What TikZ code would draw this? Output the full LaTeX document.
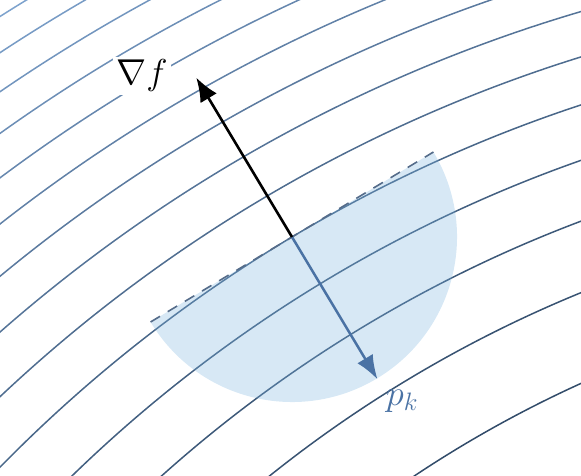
\RequirePackage{fix-cm}
\documentclass[tikz,border=0pt]{standalone}
\usetikzlibrary{arrows.meta,calc}
\definecolor{levlight}{RGB}{125,162,205}
\definecolor{levdark}{RGB}{50,76,106}
\definecolor{diskcol}{RGB}{122,178,221}
\definecolor{pcol}{RGB}{74,114,164}
\definecolor{dashcol}{RGB}{85,108,138}
\tikzset{
  level/.style={line width=1.5pt},
  gradarrow/.style={line width=2.6pt, black, -{Latex[length=24pt,width=19pt]}},
  parrow/.style={line width=2.5pt, pcol, -{Latex[length=24pt,width=18pt]}},
  dashline/.style={line width=1.6pt, dashcol, dash pattern=on 11pt off 9pt},
  disk/.style={fill=diskcol, fill opacity=0.3},
  lab/.style={font=\fontsize{36}{40}\selectfont, inner sep=3pt}
}
\begin{document}
\begin{tikzpicture}[x=1pt,y=-1pt]
\useasboundingbox (0,0) rectangle (581,476);
\coordinate (P) at (292,237);
\coordinate (G) at ($(P)+(239:186)$);
\coordinate (Pk) at ($(P)+(59:166)$);
\coordinate (D1) at ($(P)+(-31:165)$);
\coordinate (D2) at ($(P)+(149:165)$);
\begin{scope}
  \clip (0,0) rectangle (581,476);
  \foreach \cx/\cy/\r/\c in {
      956.1/1525.3/1786/0,
      964.7/1520.2/1756/8,
      973.4/1515.2/1724.3/15,
      982.0/1510.2/1691/23,
      990.7/1505.2/1656.2/31,
      999.4/1500.1/1620.8/38,
      1008.0/1495.1/1581.6/46,
      1016.7/1490.1/1541/54,
      1025.3/1485.0/1495.2/62,
      1034.0/1480.0/1447.4/69,
      1042.7/1475.0/1393/77,
      1051.3/1469.9/1334/85,
      1060.0/1464.9/1266/92,
      1068.6/1459.9/1181.5/100}{
    \draw[level, color=levdark!\c!levlight] (\cx,\cy) circle[radius=\r pt];
  }
\end{scope}
\fill[disk] (D1) arc[start angle=-31, end angle=149, radius=165] -- cycle;
\draw[dashline] (D2) -- (D1);
\draw[parrow] (P) -- (Pk);
\draw[gradarrow] (P) -- (G);
\node[lab, fill=white] (gf) at (142,76) {$\nabla f$};
\node[lab, text=pcol] (pk) at (402,401) {$p_k$};
\end{tikzpicture}
\end{document}
